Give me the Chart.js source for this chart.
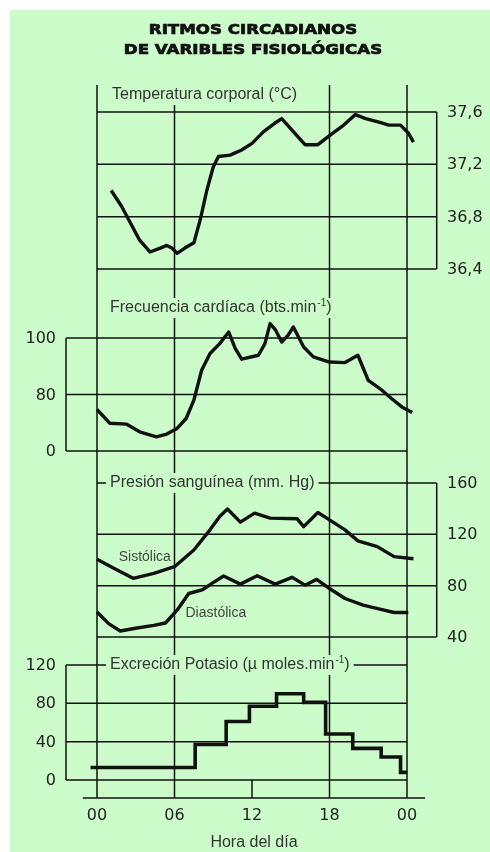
<!DOCTYPE html>
<html>
<head>
<meta charset="utf-8">
<script src="https://cdn.jsdelivr.net/npm/chart.js@4.4.1/dist/chart.umd.min.js"></script>
<style>
html,body{margin:0;padding:0;background:#fff;}
canvas{display:block;}
</style>
</head>
<body>
<canvas id="c" width="490" height="852"></canvas>
<script>
// ---------------- DATA ----------------
const hourTicks = [0, 6, 12, 18, 24];
const hourLabels = ['00', '06', '12', '18', '00'];

// Temperatura corporal (°C)
const tempHours  = [1.1, 1.9, 2.6, 3.3, 4.1, 4.9, 5.4, 5.8, 6.2, 6.8, 7.5, 8.0, 8.5, 9.0, 9.4, 10.3, 11.2, 12.0, 12.9, 13.7, 14.3, 15.2, 16.1, 17.1, 18.0, 19.1, 20.0, 20.8, 21.9, 22.6, 23.5, 24.1, 24.5];
const tempValues = [37.00, 36.88, 36.75, 36.62, 36.53, 36.56, 36.58, 36.56, 36.52, 36.56, 36.60, 36.78, 37.00, 37.18, 37.26, 37.27, 37.31, 37.36, 37.45, 37.51, 37.55, 37.45, 37.35, 37.35, 37.42, 37.50, 37.58, 37.55, 37.52, 37.50, 37.50, 37.44, 37.37];
const tempTicks = [36.4, 36.8, 37.2, 37.6];
const tempTickLabels = ['36,4', '36,8', '37,2', '37,6'];

// Frecuencia cardíaca (bts.min-1) — broken axis: the "0" label sits where 60 would be
const hrHours  = [0, 1.0, 2.3, 3.3, 4.6, 5.4, 6.2, 6.9, 7.5, 8.1, 8.75, 9.5, 10.2, 10.7, 11.2, 12.5, 13.0, 13.4, 13.8, 14.3, 14.8, 15.2, 16.0, 16.75, 18.0, 19.2, 20.2, 21.0, 21.9, 22.8, 23.6, 24.4];
const hrValues = [74.7, 69.8, 69.5, 66.8, 65.0, 66.0, 68.0, 71.5, 78.0, 88.6, 94.5, 98.0, 102.1, 96.3, 92.5, 93.9, 98.0, 105.1, 103.0, 98.6, 101.0, 103.9, 96.8, 93.3, 91.5, 91.3, 93.9, 85.0, 82.1, 78.6, 75.6, 73.6];
const hrTicks = [60, 80, 100];
const hrTickLabels = ['0', '80', '100'];

// Presión sanguínea (mm. Hg)
const sysHours  = [0, 1.3, 2.8, 4.4, 6.0, 7.5, 8.75, 9.5, 10.1, 11.1, 12.2, 13.4, 15.5, 16.0, 17.1, 18.0, 19.2, 20.2, 21.7, 23.0, 24.5];
const sysValues = [100.5, 93.5, 85.7, 89.6, 94.8, 107.8, 123.5, 133.9, 139.7, 129.5, 136.5, 132.6, 132.1, 126.0, 137.0, 131.3, 123.5, 114.9, 110.4, 102.6, 101.0];
const diaHours  = [0, 0.9, 1.8, 3.1, 4.4, 5.3, 6.2, 7.1, 8.2, 8.9, 9.8, 11.1, 12.4, 13.8, 15.1, 16.1, 17.0, 18.0, 19.2, 20.6, 21.9, 23.0, 24.1];
const diaValues = [59.5, 50.4, 44.7, 47.0, 49.1, 50.9, 60.9, 73.9, 77.0, 81.8, 87.5, 81.2, 87.7, 81.2, 86.5, 80.4, 84.9, 77.8, 70.0, 64.8, 61.7, 59.1, 59.1];
const bpTicks = [40, 80, 120, 160];
const bpTickLabels = ['40', '80', '120', '160'];

// Excreción Potasio (µ moles.min-1) — step values, each holds until the next hour
const kHours  = [-0.5, 7.6, 10.0, 11.8, 13.9, 16.0, 17.7, 19.8, 22.0, 23.5, 24.0];
const kValues = [13, 37, 61, 77, 90, 81, 48, 33, 24, 8, 8];
const kTicks = [0, 40, 80, 120];
const kTickLabels = ['0', '40', '80', '120'];

// ---------------- LAYOUT ----------------
const W = 490, H = 852;
const GREEN = 'rgb(205,252,203)';
const INK = '#111';
const TEXT = '#333';
const FRAME_TOP = 85, AXIS_Y = 798;

// map two (value, pixel) anchors to a full-canvas scale range
function span(v1, p1, v2, p2, size) {
  const k = (v2 - v1) / (p2 - p1);
  return { atZero: v1 - p1 * k, atSize: v1 + (size - p1) * k };
}
const xr = span(0, 97, 24, 407, W);
const yTr = span(37.6, 112, 36.4, 269, H);
const yFr = span(100, 338, 60, 451, H);
const yPr = span(160, 483, 40, 637, H);
const yKr = span(120, 665, 0, 780, H);

const panels = [
  { axis: 'yT', grid: tempTicks, labels: tempTickLabels, from: 0, to: 26.3, edge: 'to', tickSide: 'right', titleDy: -17,
    title: [{ t: 'Temperatura corporal (°C)' }], titleX: 112 },
  { axis: 'yF', grid: hrTicks, labels: hrTickLabels, from: -2.4, to: 24, edge: 'from', tickSide: 'left', titleDy: -30,
    title: [{ t: 'Frecuencia cardíaca (bts.min' }, { t: '-1', sup: true }, { t: ')' }], titleX: 110 },
  { axis: 'yP', grid: bpTicks, labels: bpTickLabels, from: 0, to: 26.3, edge: 'to', tickSide: 'right', titleDy: 0,
    title: [{ t: 'Presión sanguínea (mm. Hg)' }], titleX: 110 },
  { axis: 'yK', grid: kTicks, labels: kTickLabels, from: -2.4, to: 24, edge: 'from', tickSide: 'left', titleDy: 0,
    title: [{ t: 'Excreción Potasio (µ moles.min' }, { t: '-1', sup: true }, { t: ')' }], titleX: 110 }
];
const longHourLines = [0, 6, 18, 24];
const seriesNotes = [
  { text: 'Sistólica', h: 3.7, v: 102.5, axis: 'yP' },
  { text: 'Diastólica', h: 9.2, v: 58.5, axis: 'yP' }
];

const TITLE_FONT = '16px "Liberation Sans", Arial, sans-serif';
const SUP_FONT = '10px "Liberation Sans", Arial, sans-serif';
const NUM_FONT = '16px "DejaVu Sans", sans-serif';

const figurePlugin = {
  id: 'figure',
  beforeDraw(chart) {
    const c = chart.ctx;
    c.save();
    c.fillStyle = '#fff';
    c.fillRect(0, 0, W, H);
    c.fillStyle = GREEN;
    c.fillRect(10, 10, W - 10, H - 10);
    // main title (heavy, wide)
    c.fillStyle = INK;
    c.strokeStyle = INK;
    c.lineWidth = 0.7;
    c.textAlign = 'center';
    c.textBaseline = 'middle';
    c.font = 'bold 14px "DejaVu Sans", sans-serif';
    [['RITMOS CIRCADIANOS', 30], ['DE VARIBLES FISIOLÓGICAS', 50]].forEach(([t, y]) => {
      c.save();
      c.translate(253, y);
      c.scale(1.19, 1);
      c.fillText(t, 0, 0);
      c.strokeText(t, 0, 0);
      c.restore();
    });
    c.restore();
  },
  beforeDatasetsDraw(chart) {
    const c = chart.ctx, s = chart.scales;
    const X = v => s.x.getPixelForValue(v);
    const line = (x1, y1, x2, y2) => { c.beginPath(); c.moveTo(x1, y1); c.lineTo(x2, y2); c.stroke(); };
    c.save();
    c.strokeStyle = INK;
    c.lineWidth = 1.5;
    // long hour lines crossing every panel
    longHourLines.forEach(h => line(X(h), FRAME_TOP, X(h), AXIS_Y));
    // short 12 h tick
    line(X(12), s.yK.getPixelForValue(0), X(12), AXIS_Y);
    // x axis line
    line(X(-1.1), AXIS_Y, X(25.4), AXIS_Y);
    // panels
    panels.forEach(p => {
      const Y = v => s[p.axis].getPixelForValue(v);
      p.grid.forEach(v => line(X(p.from), Y(v), X(p.to), Y(v)));
      const ex = X(p[p.edge]);
      line(ex, Y(p.grid[0]), ex, Y(p.grid[p.grid.length - 1]));
      // tick labels
      c.fillStyle = '#222';
      c.font = NUM_FONT;
      c.textBaseline = 'middle';
      c.textAlign = p.tickSide === 'right' ? 'left' : 'right';
      const tx = p.tickSide === 'right' ? 447 : 56;
      p.grid.forEach((v, i) => c.fillText(p.labels[i], tx, Y(v) + 1));
      // panel title with background gap
      const ty = Y(p.grid[p.grid.length - 1]) + p.titleDy;
      let w = 0;
      p.title.forEach(seg => { c.font = seg.sup ? SUP_FONT : TITLE_FONT; w += c.measureText(seg.t).width + (seg.sup ? 1 : 0); });
      c.fillStyle = GREEN;
      c.fillRect(p.titleX - 4, ty - 10, w + 8, 20);
      c.fillStyle = TEXT;
      c.textAlign = 'left';
      let cx = p.titleX;
      p.title.forEach(seg => {
        c.font = seg.sup ? SUP_FONT : TITLE_FONT;
        c.fillText(seg.t, cx + (seg.sup ? 1 : 0), seg.sup ? ty - 5 : ty);
        cx += c.measureText(seg.t).width + (seg.sup ? 1 : 0);
      });
    });
    // x tick labels
    c.fillStyle = '#222';
    c.font = NUM_FONT;
    c.textAlign = 'center';
    c.textBaseline = 'middle';
    hourTicks.forEach((h, i) => c.fillText(hourLabels[i], X(h), 816));
    c.fillStyle = TEXT;
    c.font = TITLE_FONT;
    c.fillText('Hora del día', 254, 843);
    // series notes
    c.font = '14px "Liberation Sans", Arial, sans-serif';
    c.fillStyle = '#444';
    seriesNotes.forEach(n => c.fillText(n.text, X(n.h), s[n.axis].getPixelForValue(n.v)));
    c.restore();
  }
};

function pts(xs, ys) { return xs.map((x, i) => ({ x, y: ys[i] })); }
const lineStyle = { borderColor: INK, borderWidth: 3.4, pointRadius: 0, tension: 0, fill: false, borderJoinStyle: 'round', borderCapStyle: 'butt' };

new Chart(document.getElementById('c'), {
  type: 'line',
  data: {
    datasets: [
      Object.assign({ label: 'Temperatura corporal', data: pts(tempHours, tempValues), yAxisID: 'yT' }, lineStyle),
      Object.assign({ label: 'Frecuencia cardíaca', data: pts(hrHours, hrValues), yAxisID: 'yF' }, lineStyle),
      Object.assign({ label: 'Sistólica', data: pts(sysHours, sysValues), yAxisID: 'yP' }, lineStyle),
      Object.assign({ label: 'Diastólica', data: pts(diaHours, diaValues), yAxisID: 'yP' }, lineStyle),
      Object.assign({ label: 'Excreción Potasio', data: pts(kHours, kValues), yAxisID: 'yK', stepped: 'before' }, lineStyle, { borderWidth: 3.6, borderJoinStyle: 'miter' })
    ]
  },
  options: {
    responsive: false,
    animation: false,
    events: [],
    layout: { padding: 0 },
    plugins: { legend: { display: false }, tooltip: { enabled: false }, title: { display: false } },
    scales: {
      x:  { type: 'linear', display: false, bounds: 'data', min: xr.atZero, max: xr.atSize },
      yT: { type: 'linear', display: false, bounds: 'data', min: yTr.atSize, max: yTr.atZero },
      yF: { type: 'linear', display: false, bounds: 'data', min: yFr.atSize, max: yFr.atZero },
      yP: { type: 'linear', display: false, bounds: 'data', min: yPr.atSize, max: yPr.atZero },
      yK: { type: 'linear', display: false, bounds: 'data', min: yKr.atSize, max: yKr.atZero }
    }
  },
  plugins: [figurePlugin]
});
</script>
</body>
</html>
